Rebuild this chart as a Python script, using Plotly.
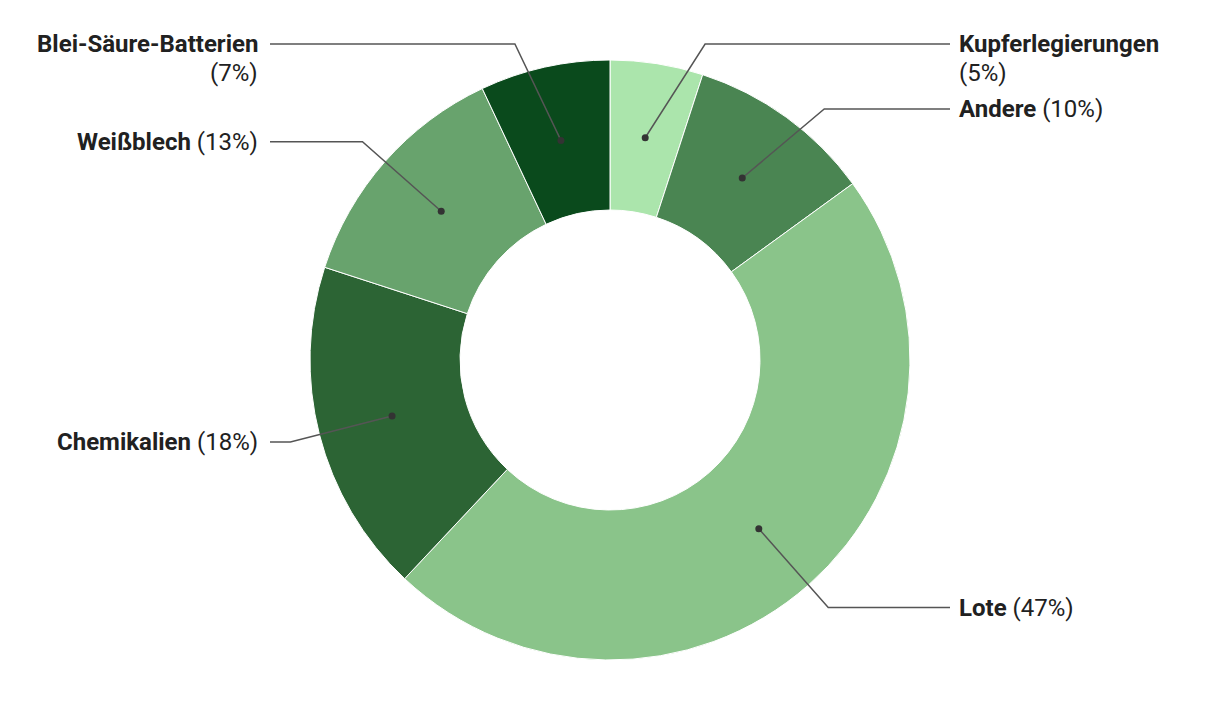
import math
import plotly.graph_objects as go

labels = ["Kupferlegierungen", "Andere", "Lote", "Chemikalien", "Weißblech", "Blei-Säure-Batterien"]
values = [5, 10, 47, 18, 13, 7]
colors = ["#abe5ac", "#4a8552", "#8ac48a", "#2c6434", "#68a36d", "#0a4a1c"]
two_line = [True, False, False, False, False, True]

PAGE_W, PAGE_H = 1220, 704
OFF = 8  # default body margin of the html page
W, H = PAGE_W - OFF, PAGE_H - OFF
cx, cy = 610, 360
R_out, R_in = 300, 150
R_dot = (R_out + R_in) / 2
R_elbow = 330
top_limit = 44
line_gap = 29
x_right_end, x_left_end = 950, 270
x_right_text, x_left_text = 957, 260
FONT = "Roboto"
FS = 24

fig = go.Figure()
fig.add_trace(go.Pie(
    labels=labels, values=values, hole=R_in / R_out, sort=False,
    direction="clockwise", rotation=0,
    marker=dict(colors=colors, line=dict(color="white", width=1)),
    textinfo="none", hoverinfo="label+percent", showlegend=False,
    domain=dict(x=[(cx - R_out - OFF) / W, (cx + R_out - OFF) / W],
                y=[(PAGE_H - cy - R_out) / H, (PAGE_H - cy + R_out) / H]),
))

total = sum(values)
cum = 0
items = []
for lab, v, tl in zip(labels, values, two_line):
    mid = (cum + v / 2) / total * 2 * math.pi
    cum += v
    dx, dy = math.sin(mid), -math.cos(mid)
    side = "right" if dx >= 0 else "left"
    items.append(dict(lab=lab, v=v, tl=tl, dot=(cx + R_dot * dx, cy + R_dot * dy),
                      ny=cy + R_elbow * dy, side=side))

# simple collision avoidance per side
for side in ("right", "left"):
    grp = sorted([it for it in items if it["side"] == side], key=lambda d: d["ny"])
    prev_bottom = None
    for it in grp:
        y = max(it["ny"], top_limit)
        if prev_bottom is not None:
            y = max(y, prev_bottom)
        it["y"] = y
        prev_bottom = y + (line_gap * 2 + 7 if it["tl"] else line_gap + 7)

shapes = []
annotations = []
txtfont = dict(family=FONT, size=FS, color="#212121")
for it in items:
    y = it["y"]
    ex = math.sqrt(max(R_elbow ** 2 - (y - cy) ** 2, 0))
    sgn = 1 if it["side"] == "right" else -1
    elx = cx + sgn * ex
    endx = x_right_end if sgn > 0 else x_left_end
    dxp, dyp = it["dot"]
    shapes.append(dict(type="path", xref="x", yref="y",
                       path=f"M {dxp},{dyp} L {elx},{y} L {endx},{y}",
                       line=dict(color="#555555", width=1.5), layer="above"))
    shapes.append(dict(type="circle", xref="x", yref="y",
                       x0=dxp - 3.5, x1=dxp + 3.5, y0=dyp - 3.5, y1=dyp + 3.5,
                       fillcolor="#333333", line=dict(width=0), layer="above"))
    pct = f"({it['v']}%)"
    tx = x_right_text if sgn > 0 else x_left_text
    anchor = "left" if sgn > 0 else "right"
    if it["tl"]:
        annotations.append(dict(x=tx, y=y, xref="x", yref="y", text=f"<b>{it['lab']}</b>",
                                showarrow=False, xanchor=anchor, yanchor="middle", font=txtfont))
        annotations.append(dict(x=tx, y=y + line_gap, xref="x", yref="y", text=pct,
                                showarrow=False, xanchor=anchor, yanchor="middle", font=txtfont))
    else:
        annotations.append(dict(x=tx, y=y, xref="x", yref="y", text=f"<b>{it['lab']}</b> {pct}",
                                showarrow=False, xanchor=anchor, yanchor="middle", font=txtfont))

fig.update_layout(
    width=W, height=H, margin=dict(l=0, r=0, t=0, b=0),
    paper_bgcolor="white", plot_bgcolor="white",
    xaxis=dict(range=[OFF, PAGE_W], visible=False, fixedrange=True),
    yaxis=dict(range=[PAGE_H, OFF], visible=False, fixedrange=True),
    shapes=shapes, annotations=annotations,
)
fig.write_html("out.html")
